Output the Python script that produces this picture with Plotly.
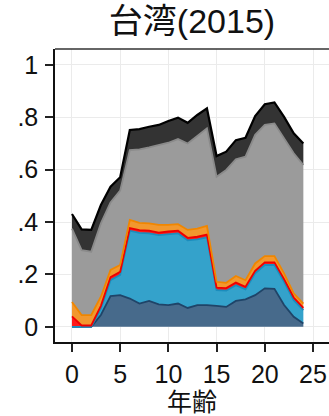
import plotly.graph_objects as go

ages = list(range(25))
# cumulative tops, converted to layer values below
dark_blue_top = [0, 0, 0, 0.045, 0.117, 0.121, 0.108, 0.089, 0.099, 0.086, 0.083, 0.089, 0.072,
                 0.083, 0.083, 0.080, 0.076, 0.099, 0.105, 0.121, 0.147, 0.145, 0.083, 0.038, 0.013]
light_blue_top = [0, 0, 0, 0.070, 0.178, 0.198, 0.367, 0.359, 0.357, 0.350, 0.354, 0.357, 0.330,
                  0.334, 0.342, 0.140, 0.138, 0.159, 0.143, 0.204, 0.236, 0.236, 0.172, 0.102, 0.064]
red_top = [0.040, 0.005, 0.005, 0.080, 0.190, 0.210, 0.377, 0.369, 0.367, 0.360, 0.364, 0.367, 0.340,
           0.344, 0.352, 0.150, 0.148, 0.169, 0.153, 0.214, 0.246, 0.246, 0.182, 0.112, 0.072]
orange_top = [0.095, 0.045, 0.045, 0.115, 0.217, 0.236, 0.408, 0.397, 0.395, 0.389, 0.389, 0.392, 0.370,
              0.375, 0.385, 0.172, 0.168, 0.194, 0.178, 0.242, 0.270, 0.270, 0.204, 0.128, 0.089]
grey_top = [0.375, 0.293, 0.287, 0.395, 0.475, 0.520, 0.675, 0.678, 0.685, 0.694, 0.703, 0.717, 0.700,
            0.729, 0.758, 0.573, 0.599, 0.640, 0.650, 0.733, 0.771, 0.777, 0.720, 0.663, 0.618]
black_top = [0.431, 0.372, 0.370, 0.465, 0.535, 0.571, 0.752, 0.755, 0.764, 0.771, 0.786, 0.799, 0.779,
             0.809, 0.834, 0.652, 0.669, 0.713, 0.722, 0.805, 0.850, 0.857, 0.802, 0.739, 0.700]

tops = [dark_blue_top, light_blue_top, red_top, orange_top, grey_top, black_top]
fills = ["#476a8b", "#34a2cb", "#ff1a1a", "#f2982e", "#9b9b9b", "#333333"]
lines = ["#1f4468", "#1b8dbd", "#ee0000", "#f08600", "#8a8a8a", "#000000"]
widths = [1.8, 1.8, 1.8, 1.8, 1.8, 2.2]

fig = go.Figure()
prev = [0] * len(ages)
for top, fc, lc, w in zip(tops, fills, lines, widths):
    layer = [round(t - p, 4) for t, p in zip(top, prev)]
    fig.add_trace(go.Scatter(x=ages, y=layer, stackgroup="one", mode="lines",
                             line=dict(color=lc, width=w), fillcolor=fc, hoverinfo="skip"))
    prev = top

font_fam = "Liberation Sans, Arial, Noto Sans CJK JP"
fig.update_layout(
    width=329, height=416,
    margin=dict(l=55, r=0, t=49, b=74),
    paper_bgcolor="white", plot_bgcolor="white",
    showlegend=False,
    font=dict(family=font_fam, color="#111111", size=25),
    title=dict(text="台湾(2015)", x=0.5, xanchor="center", xref="paper",
               y=0.95, yanchor="middle", font=dict(size=34, color="#111111")),
    xaxis=dict(range=[-1.76, 26.66], tickvals=[0, 5, 10, 15, 20, 25],
               showgrid=True, gridcolor="#ebebeb", gridwidth=1, zeroline=False,
               showline=True, linecolor="#111111", linewidth=1.5,
               ticks="outside", ticklen=8, tickwidth=1.5, tickcolor="#222222",
               ticklabelstandoff=1,
               title=dict(text="年齢", font=dict(size=25), standoff=1)),
    yaxis=dict(range=[-0.058, 1.061], tickvals=[0, 0.2, 0.4, 0.6, 0.8, 1],
               ticktext=["0", ".2", ".4", ".6", ".8", "1"],
               showgrid=True, gridcolor="#ebebeb", gridwidth=1, zeroline=False,
               showline=True, linecolor="#111111", linewidth=1.5,
               ticks="outside", ticklen=8, tickwidth=1.5, tickcolor="#222222",
               ticklabelstandoff=2),
    shapes=[dict(type="line", xref="paper", yref="paper", x0=0, x1=1, y0=1, y1=1,
                 line=dict(color="#333333", width=1.5))],
)
fig.write_html("out.html")
